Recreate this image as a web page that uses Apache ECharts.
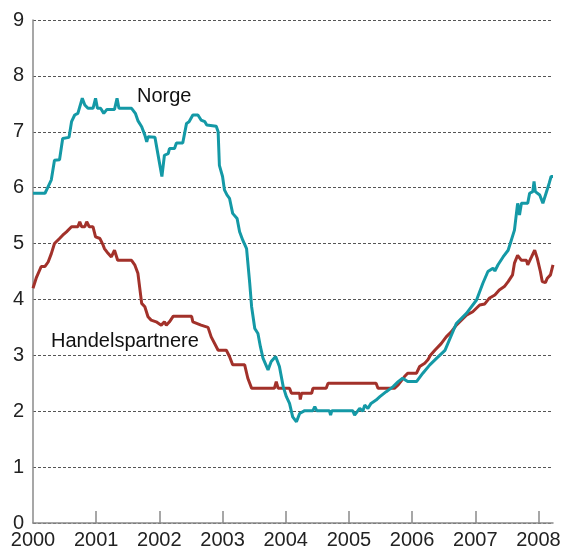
<!DOCTYPE html>
<html>
<head>
<meta charset="utf-8">
<script src="https://cdn.jsdelivr.net/npm/echarts@6/dist/echarts.min.js"></script>
<style>
  html, body { margin: 0; padding: 0; background: #fff; }
  #chart { width: 564px; height: 551px; }
</style>
</head>
<body>
<div id="chart"></div>
<script>
const yearTicks = [2000, 2001, 2002, 2003, 2004, 2005, 2006, 2007, 2008]

const norgeDates = [
  2000.00, 2000.19, 2000.24, 2000.29, 2000.34, 2000.42, 2000.47, 2000.57, 2000.61, 2000.66,
  2000.71, 2000.78, 2000.82, 2000.87, 2000.95, 2000.99, 2001.02, 2001.07, 2001.12, 2001.17,
  2001.29, 2001.33, 2001.36, 2001.56, 2001.62, 2001.66, 2001.72, 2001.77, 2001.80, 2001.82,
  2001.93, 2002.04, 2002.08, 2002.14, 2002.16, 2002.24, 2002.27, 2002.37, 2002.43, 2002.47,
  2002.53, 2002.61, 2002.66, 2002.72, 2002.75, 2002.90, 2002.93, 2002.95, 2003.00, 2003.03,
  2003.07, 2003.11, 2003.16, 2003.23, 2003.27, 2003.32, 2003.38, 2003.43, 2003.46, 2003.51,
  2003.56, 2003.60, 2003.64, 2003.72, 2003.77, 2003.84, 2003.90, 2003.96, 2004.01, 2004.06,
  2004.11, 2004.17, 2004.22, 2004.30, 2004.43, 2004.46, 2004.49, 2004.69, 2004.71, 2004.73,
  2005.06, 2005.09, 2005.17, 2005.22, 2005.25, 2005.30, 2005.35, 2005.43, 2005.49, 2005.59,
  2005.70, 2005.78, 2005.85, 2005.93, 2006.07, 2006.17, 2006.28, 2006.39, 2006.52, 2006.70,
  2006.86, 2007.02, 2007.12, 2007.20, 2007.28, 2007.31, 2007.36, 2007.44, 2007.52, 2007.57,
  2007.62, 2007.67, 2007.70, 2007.73, 2007.83, 2007.86, 2007.91, 2007.93, 2007.95, 2008.02,
  2008.07, 2008.12, 2008.17, 2008.20, 2008.23
]
const norgeValues = [
  5.90, 5.90, 6.02, 6.14, 6.49, 6.50, 6.88, 6.90, 7.18, 7.30,
  7.33, 7.60, 7.48, 7.42, 7.42, 7.60, 7.42, 7.42, 7.33, 7.40,
  7.40, 7.60, 7.42, 7.42, 7.33, 7.20, 7.09, 6.94, 6.82, 6.91,
  6.90, 6.20, 6.58, 6.61, 6.70, 6.70, 6.80, 6.80, 7.15, 7.18,
  7.30, 7.30, 7.21, 7.18, 7.12, 7.10, 7.00, 6.40, 6.20, 5.96,
  5.87, 5.81, 5.54, 5.45, 5.21, 5.06, 4.91, 4.29, 3.87, 3.48,
  3.39, 3.15, 2.95, 2.74, 2.89, 2.98, 2.80, 2.44, 2.26, 2.14,
  1.90, 1.81, 1.96, 2.01, 2.01, 2.08, 2.01, 2.01, 1.93, 2.01,
  2.01, 1.93, 2.05, 2.00, 2.11, 2.05, 2.14, 2.20, 2.26, 2.35,
  2.44, 2.53, 2.59, 2.53, 2.53, 2.68, 2.83, 2.95, 3.09, 3.57,
  3.75, 3.99, 4.29, 4.50, 4.56, 4.51, 4.62, 4.76, 4.88, 5.06,
  5.24, 5.72, 5.51, 5.72, 5.72, 5.90, 5.93, 6.11, 5.93, 5.87,
  5.72, 5.90, 6.08, 6.20, 6.20
]

const handelDates = [
  2000.00, 2000.05, 2000.13, 2000.19, 2000.24, 2000.29, 2000.34, 2000.42, 2000.47, 2000.53,
  2000.61, 2000.71, 2000.74, 2000.77, 2000.82, 2000.85, 2000.89, 2000.95, 2000.99, 2001.06,
  2001.11, 2001.13, 2001.17, 2001.24, 2001.29, 2001.34, 2001.56, 2001.61, 2001.66, 2001.72,
  2001.77, 2001.82, 2001.87, 2001.95, 2002.03, 2002.08, 2002.11, 2002.16, 2002.22, 2002.51,
  2002.53, 2002.66, 2002.77, 2002.82, 2002.93, 2003.06, 2003.11, 2003.16, 2003.35, 2003.40,
  2003.46, 2003.82, 2003.85, 2003.88, 2004.06, 2004.09, 2004.22, 2004.23, 2004.25, 2004.41,
  2004.43, 2004.64, 2004.67, 2005.43, 2005.46, 2005.72, 2005.78, 2005.88, 2005.93, 2006.07,
  2006.12, 2006.20, 2006.25, 2006.29, 2006.36, 2006.46, 2006.54, 2006.62, 2006.70, 2006.78,
  2006.86, 2006.96, 2007.07, 2007.15, 2007.22, 2007.31, 2007.38, 2007.46, 2007.52, 2007.59,
  2007.62, 2007.67, 2007.73, 2007.81, 2007.83, 2007.89, 2007.94, 2007.98, 2008.03, 2008.06,
  2008.11, 2008.14, 2008.19, 2008.23
]
const handelValues = [
  4.20, 4.38, 4.59, 4.59, 4.67, 4.82, 5.00, 5.09, 5.15, 5.21,
  5.30, 5.30, 5.39, 5.30, 5.30, 5.39, 5.30, 5.30, 5.12, 5.09,
  4.97, 4.91, 4.85, 4.76, 4.88, 4.70, 4.70, 4.62, 4.47, 3.93,
  3.87, 3.69, 3.63, 3.60, 3.54, 3.60, 3.54, 3.60, 3.70, 3.70,
  3.60, 3.54, 3.50, 3.33, 3.09, 3.09, 2.98, 2.83, 2.83, 2.59,
  2.41, 2.41, 2.53, 2.41, 2.41, 2.32, 2.32, 2.21, 2.32, 2.32,
  2.41, 2.41, 2.50, 2.50, 2.41, 2.41, 2.47, 2.62, 2.68, 2.68,
  2.80, 2.86, 2.92, 3.00, 3.09, 3.21, 3.33, 3.42, 3.54, 3.63,
  3.72, 3.78, 3.90, 3.92, 4.02, 4.08, 4.17, 4.23, 4.32, 4.44,
  4.65, 4.79, 4.70, 4.70, 4.62, 4.76, 4.88, 4.74, 4.50, 4.32,
  4.30, 4.38, 4.44, 4.62
]

const pairs = (xs, ys) => xs.map((x, i) => [x, ys[i]])

const chart = echarts.init(document.getElementById('chart'))
const font = 'Liberation Sans, Arial, sans-serif'

chart.setOption({
  animation: false,
  grid: { left: 33, right: 11, top: 20, bottom: 28 },
  xAxis: {
    type: 'value',
    min: 2000,
    max: 2008.23,
    interval: 1,
    axisLine: { lineStyle: { color: '#8a8a8a', width: 1.5 } },
    axisTick: {
      inside: true,
      length: 12,
      customValues: yearTicks.slice(1),
      lineStyle: { color: '#8a8a8a', width: 1.5 }
    },
    axisLabel: {
      customValues: yearTicks,
      margin: 7,
      color: '#222',
      fontSize: 20,
      fontFamily: font,
      formatter: (v) => String(v)
    },
    splitLine: { show: false }
  },
  yAxis: {
    type: 'value',
    min: 0,
    max: 9,
    interval: 1,
    axisLine: { show: true, lineStyle: { color: '#8a8a8a', width: 1.5 } },
    axisTick: { show: false },
    axisLabel: { margin: 9, color: '#222', fontSize: 20, fontFamily: font },
    splitLine: {
      lineStyle: { color: '#555', type: [3, 2], width: 1 }
    }
  },
  series: [
    {
      name: 'Handelspartnere',
      type: 'line',
      data: pairs(handelDates, handelValues),
      symbol: 'none',
      lineStyle: { color: '#a2312a', width: 3 },
      z: 3
    },
    {
      name: 'Norge',
      type: 'line',
      data: pairs(norgeDates, norgeValues),
      symbol: 'none',
      lineStyle: { color: '#1499a6', width: 3 },
      z: 4
    }
  ],
  graphic: [
    {
      type: 'text',
      left: 137,
      top: 86,
      style: { text: 'Norge', font: '20px ' + font, fill: '#111' }
    },
    {
      type: 'text',
      left: 51,
      top: 331,
      style: { text: 'Handelspartnere', font: '20px ' + font, fill: '#111' }
    }
  ]
})
</script>
</body>
</html>
